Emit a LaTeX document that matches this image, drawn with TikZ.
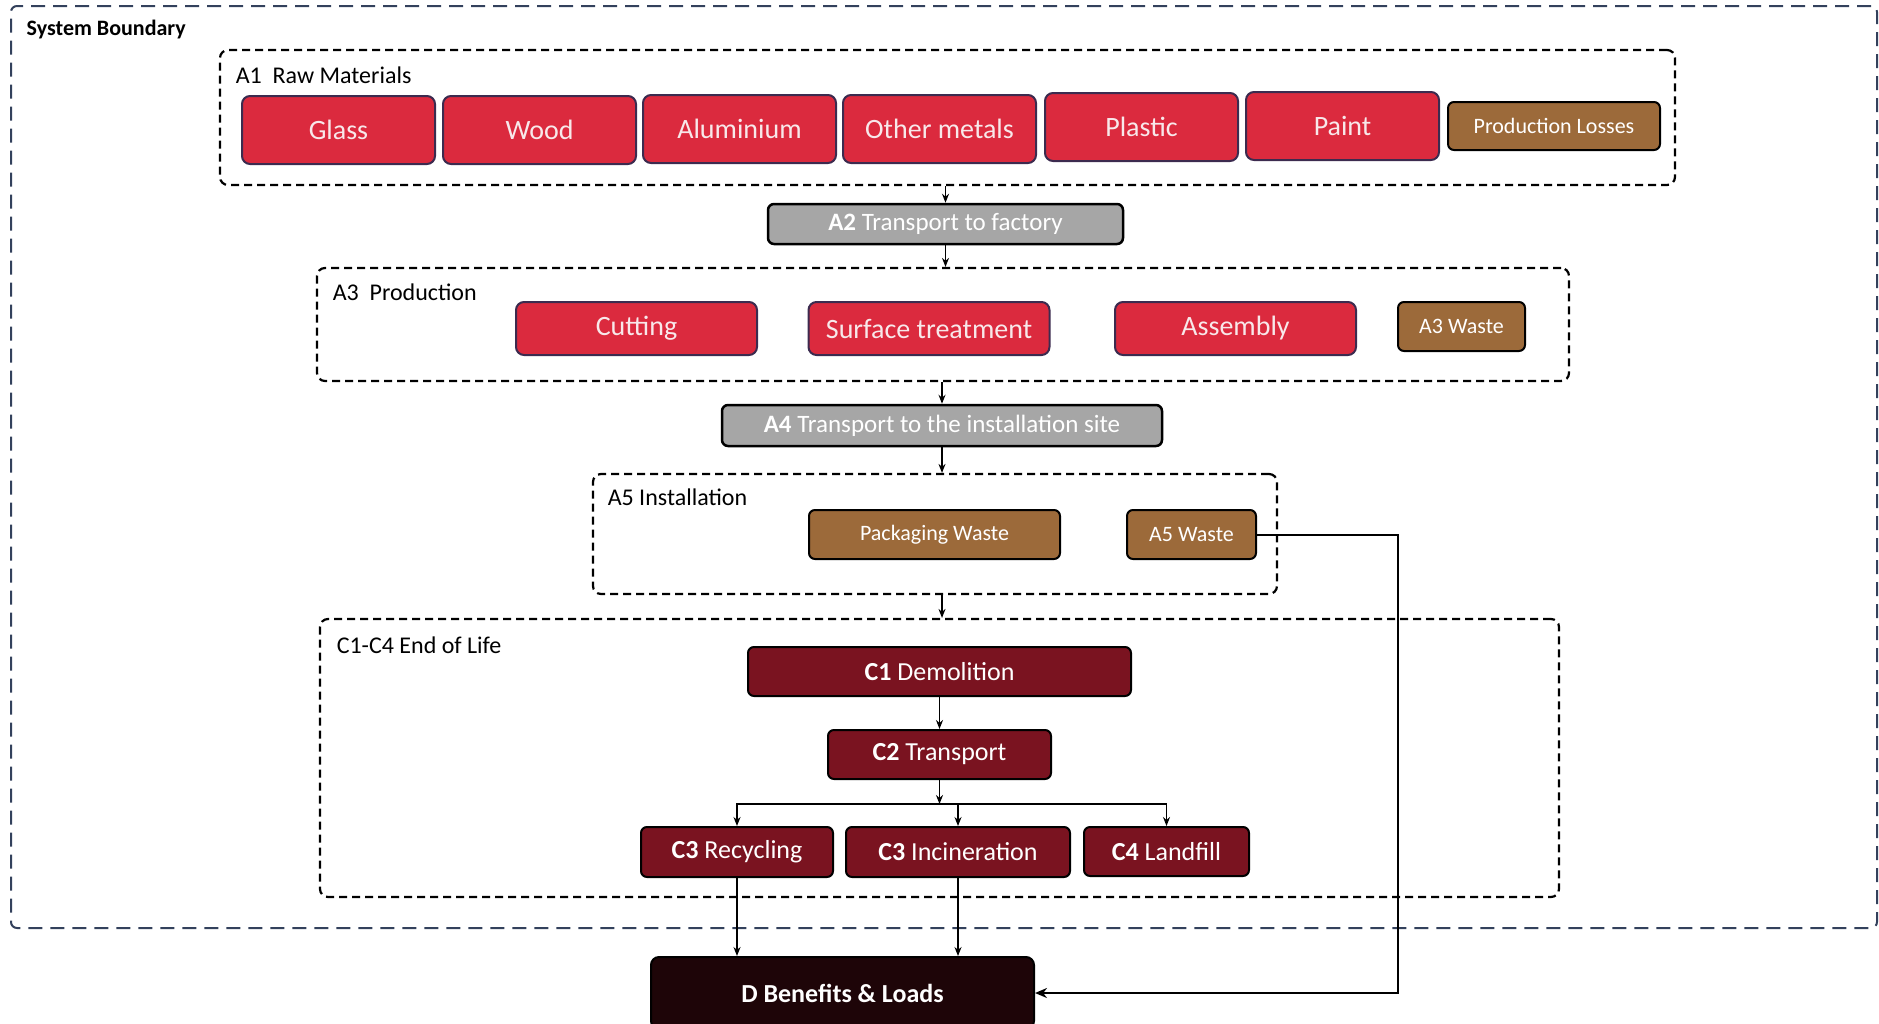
\documentclass[tikz,border=0pt]{standalone}
\usepackage{fontspec}
\setmainfont{Carlito}
\usetikzlibrary{arrows.meta}
\definecolor{boundary}{HTML}{33415C}
\definecolor{matred}{HTML}{DB2A3E}
\definecolor{matedge}{HTML}{3C2B4F}
\definecolor{mattext}{HTML}{F8E8EA}
\definecolor{wastebrown}{HTML}{9C6A3A}
\definecolor{transgray}{HTML}{A6A6A6}
\definecolor{eolred}{HTML}{7A1320}
\definecolor{dark}{HTML}{1E0508}
\begin{document}
\begin{tikzpicture}[x=1pt, y=-1pt, >={Stealth[length=9pt,width=7pt]}, line width=1.5pt,
	stage/.style={draw, dash pattern=on 8pt off 5pt, line width=2.2pt, rounded corners=8pt, inner sep=0pt},
	stagelabel/.style={anchor=west, inner sep=0pt, font=\fontsize{24}{28}\selectfont},
	material/.style={draw=matedge, fill=matred, text=mattext, rounded corners=8pt, line width=2pt, minimum width=193pt, minimum height=68pt, inner sep=0pt, font=\fontsize{28}{32}\selectfont},
	waste/.style={draw=black, fill=wastebrown, text=white, rounded corners=6pt, line width=2pt, minimum height=49pt, inner sep=0pt, font=\fontsize{22}{26}\selectfont},
	transport/.style={draw=black, fill=transgray, text=white, rounded corners=6pt, line width=2.5pt, minimum height=40pt, inner sep=0pt, font=\fontsize{25}{30}\selectfont},
	eol/.style={draw=black, fill=eolred, text=white, rounded corners=6pt, line width=2pt, minimum height=49pt, inner sep=0pt, font=\fontsize{26}{30}\selectfont}]
	\useasboundingbox (0,0) rectangle (1879,1023);
	% system boundary
	\node[draw=boundary, dash pattern=on 14pt off 8pt, line width=2pt, rounded corners=6pt, minimum width=1866pt, minimum height=922pt, inner sep=0pt] (sysb) at (944,467) {};
	\node[stagelabel, font=\bfseries\fontsize{22}{26}\selectfont] (sysbl) at (26,30) {System Boundary};
	% A1
	\node[stage, minimum width=1455pt, minimum height=135pt] (A1) at (947.5,117.5) {};
	\node[stagelabel] (A1l) at (235,75) {A1\ \ Raw Materials};
	\node[material] (glass) at (338.5,130) {Glass};
	\node[material] (wood) at (539.5,130) {Wood};
	\node[material] (alu) at (739.5,129) {Aluminium};
	\node[material] (metals) at (939.5,129) {Other metals};
	\node[material] (plastic) at (1141.5,127) {Plastic};
	\node[material] (paint) at (1342.5,126) {Paint};
	\node[waste, minimum width=212pt, minimum height=48pt] (losses) at (1554,126) {Production Losses};
	% A2
	\node[transport, minimum width=355pt] (A2) at (945.5,224) {\textbf{A2} Transport to factory};
	% A3
	\node[stage, minimum width=1252pt, minimum height=113pt] (A3) at (943,324.5) {};
	\node[stagelabel] (A3l) at (332,292) {A3\ \ Production};
	\node[material, minimum width=241pt, minimum height=53pt] (cutting) at (636.5,328.5) {Cutting};
	\node[material, minimum width=241pt, minimum height=53pt] (surface) at (929,328.5) {Surface treatment};
	\node[material, minimum width=241pt, minimum height=53pt] (assembly) at (1235.5,328.5) {Assembly};
	\node[waste, minimum width=127pt] (A3w) at (1461.5,326.5) {A3 Waste};
	% A4
	\node[transport, minimum width=440pt, minimum height=41pt] (A4) at (942,425.5) {\textbf{A4} Transport to the installation site};
	% A5
	\node[stage, minimum width=684pt, minimum height=120pt] (A5) at (935,534) {};
	\node[stagelabel] (A5l) at (607,497) {A5 Installation};
	\node[waste, minimum width=251pt] (packw) at (934.5,534.5) {Packaging Waste};
	\node[waste, minimum width=129pt] (A5w) at (1191.5,534.5) {A5 Waste};
	% C1-C4
	\node[stage, minimum width=1239pt, minimum height=278pt] (C) at (939.5,758) {};
	\node[stagelabel] (Cl) at (336,645) {C1-C4 End of Life};
	\node[eol, minimum width=383pt] (C1) at (939.5,671.5) {\textbf{C1} Demolition};
	\node[eol, minimum width=223pt] (C2) at (939.5,754.5) {\textbf{C2} Transport};
	\node[eol, minimum width=192pt, minimum height=50pt] (C3r) at (737,852) {\textbf{C3} Recycling};
	\node[eol, minimum width=224pt, minimum height=50pt] (C3i) at (958,852) {\textbf{C3} Incineration};
	\node[eol, minimum width=165pt] (C4) at (1166.5,851.5) {\textbf{C4} Landfill};
	% D
	\node[draw=black, fill=dark, text=white, rounded corners=8pt, line width=2pt, minimum width=383pt, minimum height=72pt, inner sep=0pt, font=\bfseries\fontsize{26}{30}\selectfont] (D) at (842.5,993) {D Benefits \& Loads};
	\coordinate (split) at (939.5,804);
	\coordinate (bend) at (1398,534.5);
	% connectors
	\draw[->] (A2.north |- A1.south) -- (A2.north);
	\draw[->] (A2.south) -- (A2.south |- A3.north);
	\draw[->] (A4.north |- A3.south) -- (A4.north);
	\draw[->] (A4.south) -- (A4.south |- A5.north);
	\draw[->] (A4.south |- A5.south) -- (A4.south |- C.north);
	\draw[->] (C1.south) -- (C2.north);
	\draw[->] (C2.south) -- (split);
	\draw[->] (split) -| (C3r.north);
	\draw[->] (split) -| (C4.north);
	\draw[->] (C3i.north |- split) -- (C3i.north);
	\draw[->] (C3r.south) -- (C3r.south |- D.north);
	\draw[->] (C3i.south) -- (C3i.south |- D.north);
	\draw[->, line width=2pt, >={Stealth[length=12pt,width=10pt]}] (A5w.east) -- (bend) |- (D.east);
\end{tikzpicture}
\end{document}
